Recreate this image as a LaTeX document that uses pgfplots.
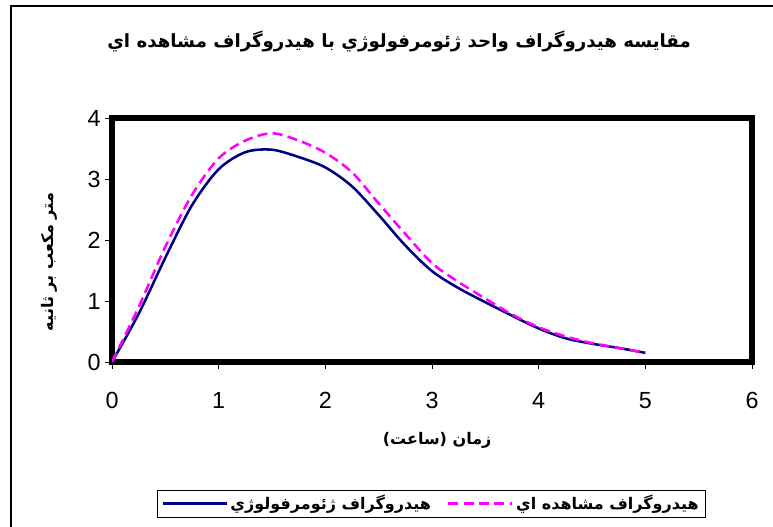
\documentclass[border=0pt]{standalone}
\usepackage{fontspec}
\setmainfont{Liberation Sans}
\newfontfamily\arabicfont[Script=Arabic]{DejaVu Sans}
\usepackage{pgfplots}
\pgfplotsset{compat=1.18}
\TeXXeTstate=1
\definecolor{navyline}{RGB}{0,0,128}
\definecolor{magline}{RGB}{255,0,255}
\begin{document}
\begin{tikzpicture}
\useasboundingbox (0,0) rectangle (579.75pt,394.5pt);
\draw[line width=0.8pt, black] (8.25pt,-2pt) -- (8.25pt,390pt) -- (582pt,390pt);
\begin{axis}[
  at={(84pt,123pt)}, anchor=south west,
  scale only axis, width=480pt, height=183pt,
  xmin=0, xmax=6, ymin=0, ymax=4,
  xtick={0,1,2,3,4,5,6}, ytick={0,1,2,3,4},
  axis line style={line width=4pt},
  tick align=outside, major tick length=5pt,
  tick style={black, line width=0.6pt},
  xtick pos=left, ytick pos=left,
  /pgf/number format/assume math mode=true,
  tick label style={font=\fontsize{17.5}{20}\selectfont},
  xticklabel style={yshift=-14pt},
  title={\arabicfont\bfseries\beginR مقايسه هيدروگراف واحد ژئومرفولوژي با هيدروگراف مشاهده اي\endR},
  title style={at={(0.4485,1.282)}, anchor=center, font=\fontsize{13.65}{16}\selectfont},
  xlabel={\arabicfont\bfseries\beginR زمان (ساعت)\endR},
  xlabel style={at={(0.508,-0.320)}, anchor=center, font=\fontsize{12}{14}\selectfont},
  ylabel={\arabicfont\bfseries\beginR متر مكعب بر ثانيه\endR},
  ylabel style={at={(-0.0985,0.41)}, anchor=center, font=\fontsize{12}{14}\selectfont},
  legend columns=2,
  legend style={at={(0.499,-0.58)}, anchor=center, draw=black, line width=0.6pt,
    font=\arabicfont\bfseries\fontsize{12}{14}\selectfont,
    /tikz/every even column/.append style={column sep=10pt}},
  legend image code/.code={\draw[#1] (0pt,0pt) -- (48pt,0pt);},
]
\addplot[navyline, line width=1.9pt, smooth] coordinates {
(0,0) (0.25,0.79) (0.5,1.71) (0.75,2.57) (1.0,3.16) (1.25,3.44) (1.5,3.48)
(1.75,3.36) (2.0,3.19) (2.25,2.88) (2.5,2.41) (2.75,1.91) (3.0,1.49)
(3.25,1.21) (3.5,0.98) (3.75,0.76) (4.0,0.55) (4.25,0.39) (4.5,0.30)
(4.75,0.23) (5.0,0.15)};
\addlegendentry{\beginR هيدروگراف ژئومرفولوژي\endR}
\addplot[magline, line width=1.9pt, smooth, dash pattern=on 7.5pt off 4pt] coordinates {
(0,0) (0.25,0.90) (0.5,1.89) (0.75,2.74) (1.0,3.34) (1.25,3.63) (1.5,3.75)
(1.75,3.63) (2.0,3.43) (2.25,3.11) (2.5,2.60) (2.75,2.10) (3.0,1.62)
(3.25,1.31) (3.5,1.04) (3.75,0.78) (4.0,0.57) (4.25,0.42) (4.5,0.31)
(4.75,0.23) (5.0,0.15)};
\addlegendentry{\beginR هيدروگراف مشاهده اي\endR}
\end{axis}
\end{tikzpicture}
\end{document}
